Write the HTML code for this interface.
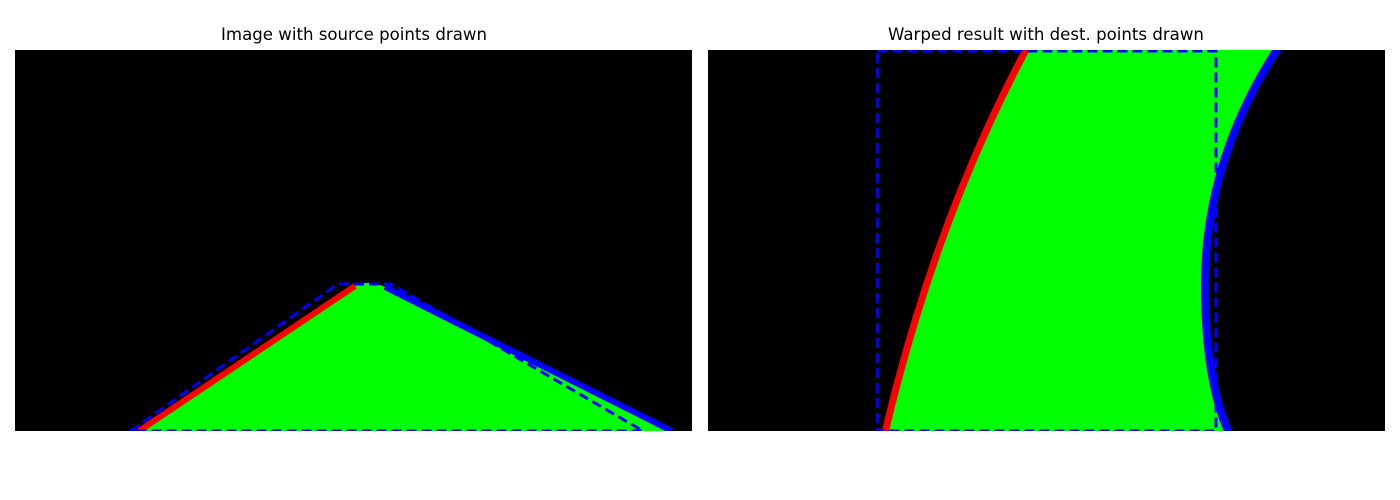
<!DOCTYPE html>
<html><head><meta charset="utf-8"><style>
body{margin:0;background:#fff;width:1400px;height:500px;overflow:hidden}
svg{display:block}
text{font-family:"DejaVu Sans","Liberation Sans",sans-serif;font-size:16.6px}
</style></head><body>
<svg width="1400" height="500">
<text x="354" y="40" text-anchor="middle">Image with source points drawn</text>
<text x="1046" y="40" text-anchor="middle">Warped result with dest. points drawn</text>
<defs>
<clipPath id="cl"><rect x="15" y="50" width="677" height="381"/></clipPath>
<clipPath id="cr"><rect x="708" y="50" width="677" height="381"/></clipPath>
</defs>
<g clip-path="url(#cl)">
<rect x="15" y="50" width="677" height="381" fill="#000"/>
<path d="M139 431 L355 286 Q368 279 385 287 L672 431 Z" fill="#00ff00"/>
<path d="M139 431 L355 286" stroke="#ff0000" stroke-width="6" fill="none"/>
<path d="M385 287 L672 431" stroke="#0000ff" stroke-width="6" fill="none"/>
<path d="M131 431 L338 284 L391 284 L643 431 Z" stroke="#0000ff" stroke-width="3" stroke-dasharray="10,5" fill="none"/>
</g>
<g clip-path="url(#cr)">
<rect x="708" y="50" width="677" height="381" fill="#000"/>
<path d="M885 431 Q935 220 1027 50 L1277 50 Q1205 160 1205 285 Q1205 380 1228 431 Z" fill="#00ff00"/>
<path d="M885 433 Q935 220 1027 48" stroke="#ff0000" stroke-width="7" fill="none"/>
<path d="M1278 48 Q1205 160 1205 285 Q1205 380 1229 433" stroke="#0000ff" stroke-width="8" fill="none"/>
<rect x="877.5" y="51" width="338.5" height="380" stroke="#0000ff" stroke-width="3" stroke-dasharray="10,5" fill="none"/>
</g>
</svg>
</body></html>
